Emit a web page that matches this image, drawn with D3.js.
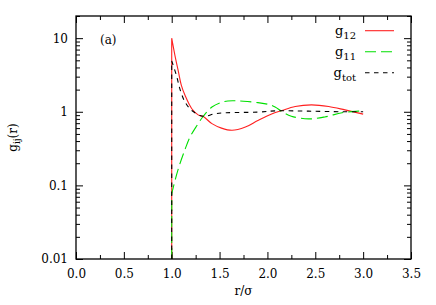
<!DOCTYPE html>
<html>
<head>
<meta charset="utf-8">
<script src="https://cdn.jsdelivr.net/npm/d3@7"></script>
<style>
  html, body { margin: 0; padding: 0; background: #fff; }
  svg { display: block; }
  text { font-family: "DejaVu Serif", serif; fill: #000; }
</style>
</head>
<body>
<svg id="chart" width="436" height="305"></svg>
<script>
/* g_ij(r) pair correlation plot, log y axis, gnuplot look. */

// ---- data ------------------------------------------------------------------
const xTicks = [0.0, 0.5, 1.0, 1.5, 2.0, 2.5, 3.0, 3.5];
const yTicks = [0.01, 0.1, 1, 10];
const yTickLabels = ['0.01', '0.1', '1', '10'];

// value at contact for the vertical jump at r = 1
const contactR = 1.0;
const contactFloor = 0.01;

const g12 = [
  [1.0, 10], [1.034, 5.8], [1.07, 3.5], [1.10, 2.3], [1.14, 1.66],
  [1.21, 1.1], [1.28, 0.9], [1.33, 0.86], [1.42, 0.69], [1.52, 0.6],
  [1.63, 0.56], [1.77, 0.62], [1.9, 0.76], [2.05, 0.94], [2.15, 1.04],
  [2.29, 1.18], [2.46, 1.24], [2.64, 1.18], [2.81, 1.06], [3.0, 0.93]
];
const g11 = [
  [1.0, 0.077], [1.017, 0.095], [1.07, 0.17], [1.14, 0.31], [1.19, 0.45],
  [1.26, 0.64], [1.33, 0.87], [1.42, 1.16], [1.54, 1.37], [1.65, 1.41],
  [1.75, 1.39], [1.9, 1.33], [2.01, 1.26], [2.08, 1.16], [2.15, 1.01],
  [2.25, 0.87], [2.43, 0.80], [2.6, 0.85], [2.78, 0.97], [2.95, 1.02],
  [3.0, 1.03]
];
const gtot = [
  [1.0, 4.9], [1.05, 3.1], [1.09, 1.95], [1.14, 1.35], [1.21, 1.04],
  [1.33, 0.87], [1.45, 0.94], [1.57, 0.97], [1.9, 0.99], [2.1, 1.03],
  [2.43, 1.02], [2.78, 1.0], [3.0, 1.0]
];

const series = [
  { name: 'g', sub: '12',  data: g12,  color: '#ff2020', dash: null },
  { name: 'g', sub: '11',  data: g11,  color: '#00e000', dash: '11,5' },
  { name: 'g', sub: 'tot', data: gtot, color: '#000000', dash: '4.5,4.5' }
];

// ---- layout ------------------------------------------------------------------
const W = 436, H = 305;
const M = { left: 76, right: 25, top: 16, bottom: 46 };
const iw = W - M.left - M.right;
const ih = H - M.top - M.bottom;

const svg = d3.select('#chart');
const g = svg.append('g').attr('transform', `translate(${M.left},${M.top})`);

const x = d3.scaleLinear().domain([0, 3.5]).range([0, iw]);
const y = d3.scaleLog().domain([0.01, 20]).range([ih, 0]);

// minor ticks
const xMinor = d3.range(0.25, 3.5, 0.5);
const yMinor = [];
[0.01, 0.1, 1, 10].forEach(dec => {
  for (let k = 2; k <= 9; k++) if (dec * k <= 20) yMinor.push(dec * k);
});

function styleAxis(sel) {
  sel.select('.domain').remove();
  sel.selectAll('line').attr('stroke', '#000').attr('stroke-width', 1);
  sel.selectAll('text').style('font-family', '"DejaVu Serif", serif')
    .style('font-size', '12px').attr('fill', '#000');
}

// bottom
g.append('g').attr('transform', `translate(0,${ih})`)
  .call(d3.axisBottom(x).tickValues(xTicks).tickFormat(d3.format('.1f'))
    .tickSize(-7).tickPadding(10))
  .call(styleAxis);
g.append('g').attr('transform', `translate(0,${ih})`)
  .call(d3.axisBottom(x).tickValues(xMinor).tickFormat('').tickSize(-4))
  .call(styleAxis);
// top
g.append('g')
  .call(d3.axisTop(x).tickValues(xTicks).tickFormat('').tickSize(-7))
  .call(styleAxis);
g.append('g')
  .call(d3.axisTop(x).tickValues(xMinor).tickFormat('').tickSize(-4))
  .call(styleAxis);
// left
g.append('g')
  .call(d3.axisLeft(y).tickValues(yTicks).tickFormat((d, i) => yTickLabels[i])
    .tickSize(-7).tickPadding(8))
  .call(styleAxis);
g.append('g')
  .call(d3.axisLeft(y).tickValues(yMinor).tickFormat('').tickSize(-4))
  .call(styleAxis);
// right
g.append('g').attr('transform', `translate(${iw},0)`)
  .call(d3.axisRight(y).tickValues(yTicks).tickFormat('').tickSize(-7))
  .call(styleAxis);
g.append('g').attr('transform', `translate(${iw},0)`)
  .call(d3.axisRight(y).tickValues(yMinor).tickFormat('').tickSize(-4))
  .call(styleAxis);

// curves
const line = d3.line()
  .x(d => x(d[0]))
  .y(d => y(d[1]))
  .curve(d3.curveCatmullRom.alpha(0.5));

const plot = g.append('g');
series.forEach(s => {
  // vertical jump at contact, then the smooth curve
  const d = `M${x(contactR)},${y(contactFloor)}` + line(s.data).replace(/^M/, 'L');
  plot.append('path')
    .attr('d', d)
    .attr('fill', 'none')
    .attr('stroke', s.color)
    .attr('stroke-width', 1.1)
    .attr('stroke-dasharray', s.dash);
});

// border
g.append('rect')
  .attr('width', iw).attr('height', ih)
  .attr('fill', 'none').attr('stroke', '#000').attr('stroke-width', 1.3);

// panel tag
g.append('text')
  .attr('x', 24).attr('y', 28)
  .style('font-size', '12px')
  .text('(a)');

// legend
const leg = g.append('g').attr('transform', `translate(${356 - M.left},0)`);
series.forEach((s, i) => {
  const ly = 14.7 + i * 21;
  const t = leg.append('text')
    .attr('x', 0).attr('y', ly + 4)
    .attr('text-anchor', 'end')
    .style('font-size', '13px');
  t.append('tspan').text(s.name);
  t.append('tspan').attr('dy', 4).style('font-size', '10px').text(s.sub);
  leg.append('line')
    .attr('x1', 9).attr('x2', 38)
    .attr('y1', ly).attr('y2', ly)
    .attr('stroke', s.color)
    .attr('stroke-width', 1.1)
    .attr('stroke-dasharray', s.dash);
});

// axis titles
const yl = svg.append('text')
  .attr('transform', `translate(17,${M.top + ih / 2}) rotate(-90)`)
  .attr('text-anchor', 'middle')
  .style('font-size', '12px');
yl.append('tspan').text('g');
yl.append('tspan').attr('dy', 3).style('font-size', '9px').text('ij');
yl.append('tspan').attr('dy', -3).text('(r)');

svg.append('text')
  .attr('x', M.left + iw / 2).attr('y', 295)
  .attr('text-anchor', 'middle')
  .style('font-size', '12px')
  .text('r/σ');
</script>
</body>
</html>
